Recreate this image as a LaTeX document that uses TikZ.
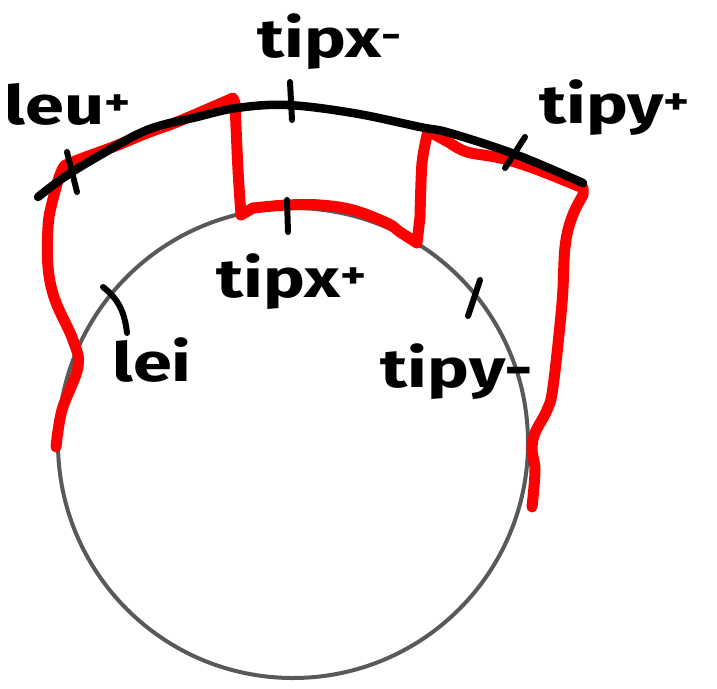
\documentclass[tikz,border=0pt]{standalone}
\usepackage{fontspec}
\setmainfont{Fira Sans}
\newcommand{\widelab}[1]{\scalebox{1.3}[1]{#1}}
\begin{document}
\begin{tikzpicture}[x=1pt,y=-1pt,
  redline/.style={draw=red, line width=11pt, line join=round, line cap=round},
  blackline/.style={draw=black, line width=8.5pt, line cap=round},
  tick/.style={draw=black, line width=6pt, line cap=round},
  lab/.style={font=\fontsize{54}{54}\selectfont\bfseries, inner sep=0pt}]
\useasboundingbox (0,0) rectangle (717,688);
% circle
\draw[black!65, line width=4pt] (293,443) circle[radius=235];
% red outline
\draw[redline]
  plot[smooth, tension=0.6] coordinates {(56,447) (62,410) (78,367) (73,340) (55,300) (48,267) (48,227) (52,203) (62,170) (73,162) (113,147) (147,133) (177,122) (217,105) (233,98)}
  -- plot[smooth, tension=0.5] coordinates {(235,103) (238,170) (241,215)}
  -- plot[smooth, tension=0.6] coordinates {(253,208) (287,205) (320,205) (353,210) (387,223) (400,232) (417,243)}
  -- plot[smooth, tension=0.5] coordinates {(420,217) (422,163) (428,131)}
  -- plot[smooth, tension=0.6] coordinates {(450,143) (467,152) (500,158) (533,168) (583,188)}
  -- plot[smooth, tension=0.6] coordinates {(583,195) (572,217) (565,247) (562,303) (553,387) (547,410) (535,433) (532,450) (535,470) (532,507)};
% black arc
\draw[blackline] plot[smooth, tension=0.6] coordinates {(38,197) (63,178) (97,157) (147,130) (197,117) (237,108) (287,105) (353,113) (420,127) (450,133) (517,155) (583,183)};
% ticks
\draw[tick] (67,152) -- (77,192);
\draw[tick] (290,82) -- (292,120);
\draw[tick] (525,137) -- (505,168);
\draw[tick] (287,200) -- (288,232);
\draw[tick] (103,287) .. controls (120,300) and (125,315) .. (127,333);
\draw[tick] (480,280) -- (468,316);
% labels
\node[lab] (leuplus) at (68,104) {\widelab{leu\textsuperscript{+}}};
\node[lab] (tipxminus) at (330,42) {\widelab{tipx\textsuperscript{-}}};
\node[lab] (tipyplus) at (615,108) {\widelab{tipy\textsuperscript{+}}};
\node[lab] (tipxplus) at (292,282) {\widelab{tipx\textsuperscript{+}}};
\node[lab] (lei) at (152,360) {\widelab{lei}};
\node[lab] (tipyminus) at (457,372) {\widelab{tipy-}};
\end{tikzpicture}
\end{document}
